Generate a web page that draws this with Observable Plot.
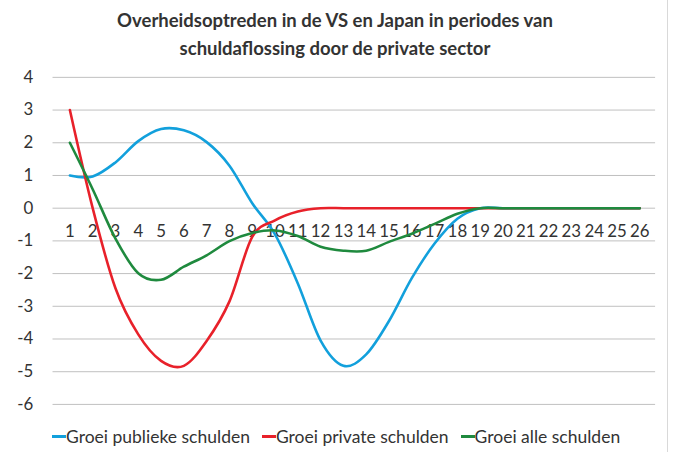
<!DOCTYPE html>
<html>
<head>
<meta charset="utf-8">
<script src="https://cdn.jsdelivr.net/npm/d3@7"></script>
<script src="https://cdn.jsdelivr.net/npm/@observablehq/plot@0.6"></script>
<style>
  html, body { margin: 0; padding: 0; background: #fff; }
  #wrap { position: relative; width: 667px; height: 452px; border-right: 1px solid #d9d9d9; font-family: Lato, sans-serif; color: #333; overflow: hidden; }
  #title { position: absolute; left: 0; top: 6px; width: 670px; text-align: center; font-weight: bold; font-size: 18.5px; line-height: 28px; color: #333; }
  #chart { position: absolute; left: 0; top: 62px; }
  #legend { position: absolute; left: 52px; top: 426px; display: flex; align-items: center; font-size: 17.5px; color: #333; white-space: nowrap; }
  .item { display: flex; align-items: center; margin-right: 12px; }
  .sw { width: 14px; height: 3px; }
</style>
</head>
<body>
<div id="wrap">
  <div id="title">Overheidsoptreden in de VS en Japan in periodes van<br>schuldaflossing door de private sector</div>
  <div id="chart"></div>
  <div id="legend"></div>
</div>
<script>
const categories = d3.range(1, 27);
const seriesNames = ["Groei publieke schulden", "Groei private schulden", "Groei alle schulden"];
const seriesColors = ["#12a0dc", "#e8212a", "#1f8a3e"];
const yTicks = [-6, -5, -4, -3, -2, -1, 0, 1, 2, 3, 4];

const publiek = [1.0, 0.97, 1.4, 2.05, 2.42, 2.38, 2.02, 1.3, 0.15, -0.8, -2.3, -4.05, -4.82, -4.47, -3.45, -2.14, -1.08, -0.32, 0, 0, 0, 0, 0, 0, 0, 0];
const privaat = [3.0, 0.0, -2.45, -3.86, -4.67, -4.82, -4.06, -2.85, -0.88, -0.37, -0.1, 0, 0, 0, 0, 0, 0, 0, 0, 0, 0, 0, 0, 0, 0, 0];
const alle = [2.0, 0.58, -0.93, -1.99, -2.19, -1.79, -1.44, -1.01, -0.76, -0.68, -0.85, -1.18, -1.3, -1.3, -1.03, -0.78, -0.48, -0.17, 0, 0, 0, 0, 0, 0, 0, 0];

const allSeries = [publiek, privaat, alle];
const rows = [];
allSeries.forEach((vals, s) => vals.forEach((v, i) => rows.push({x: categories[i], y: v, s: seriesNames[s]})));

const chart = Plot.plot({
  width: 673,
  height: 365,
  marginTop: 15,
  marginBottom: 20,
  marginLeft: 53,
  marginRight: 12,
  style: {fontFamily: "Lato, sans-serif", fontSize: "17px", color: "#333", background: "transparent"},
  x: {type: "point", domain: categories, padding: 0.5, axis: null},
  y: {domain: [-6, 4], axis: null},
  color: {domain: seriesNames, range: seriesColors},
  marks: [
    Plot.ruleY(yTicks, {stroke: "#bfbfbf", strokeWidth: 1}),
    Plot.axisY(yTicks, {tickSize: 0, tickPadding: 20, tickFormat: d => String(d), fill: "#333", fontSize: 17, label: null}),
    Plot.text(categories, {x: d => d, y: () => 0, dy: 24, text: d => String(d), fill: "#333", fontSize: 17}),
    Plot.line(rows, {x: "x", y: "y", z: "s", stroke: "s", strokeWidth: 2.6, curve: "cardinal", tension: 0})
  ]
});
document.getElementById("chart").appendChild(chart);

const legend = document.getElementById("legend");
seriesNames.forEach((n, i) => {
  const it = document.createElement("div");
  it.className = "item";
  const sw = document.createElement("div");
  sw.className = "sw";
  sw.style.background = seriesColors[i];
  const t = document.createElement("span");
  t.textContent = n;
  it.appendChild(sw);
  it.appendChild(t);
  legend.appendChild(it);
});
</script>
</body>
</html>
